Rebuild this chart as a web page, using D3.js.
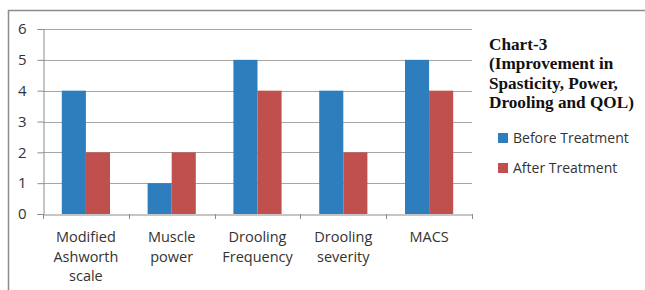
<!DOCTYPE html>
<html><head><meta charset="utf-8">
<script src="https://cdn.jsdelivr.net/npm/d3@7"></script>
<style>body{margin:0;background:#fff}svg{display:block}</style>
</head><body>
<svg id="c" width="645" height="290"></svg>
<script>
const categories = [["Modified","Ashworth","scale"],["Muscle","power"],["Drooling","Frequency"],["Drooling","severity"],["MACS"]];
const seriesNames = ["Before Treatment","After Treatment"];
const beforeValues = [4,1,5,4,5];
const afterValues = [2,2,4,2,4];
const yTicks = [0,1,2,3,4,5,6];
const titleLines = ["Chart-3","(Improvement in","Spasticity, Power,","Drooling and QOL)"];
const colors = ["#2E7EBE","#C0504D"];

(function(){
const svg = d3.select("#c");
svg.append("rect").attr("x",8.5).attr("y",10.5).attr("width",660).attr("height",300)
  .attr("fill","#fff").attr("stroke","#8c8c8c").attr("stroke-width",1.5);

const pLeft=43, pRight=472, pTop=29, pBottom=214;
const x = d3.scaleBand().domain(d3.range(categories.length)).range([pLeft,pRight]);
const y = d3.scaleLinear().domain([0,6]).range([pBottom,pTop]);
const inner = d3.scaleBand().domain([0,1]).range([0, x.bandwidth()]).paddingOuter(0.78).paddingInner(0);

const font = "'Open Sans', sans-serif";
svg.append("g").selectAll("line").data(yTicks.filter(d=>d>0)).join("line")
  .attr("x1",pLeft).attr("x2",pRight).attr("y1",d=>Math.round(y(d))+0.5).attr("y2",d=>Math.round(y(d))+0.5)
  .attr("stroke","#a6a6a6").attr("stroke-width",1);

const yAxis = svg.append("g").attr("transform",`translate(${pLeft+0.5},0)`)
  .call(d3.axisLeft(y).tickValues(yTicks).tickFormat(d3.format("d")).tickSize(6).tickPadding(11));
yAxis.select(".domain").attr("stroke","#8c8c8c");
yAxis.selectAll(".tick line").attr("stroke","#8c8c8c");
yAxis.selectAll("text").attr("font-family",font).attr("font-size",15).attr("fill","#333");

const groups = svg.append("g").selectAll("g").data(categories).join("g")
  .attr("transform",(d,i)=>`translate(${x(i)},0)`);
groups.selectAll("rect").data((d,i)=>[beforeValues[i],afterValues[i]]).join("rect")
  .attr("x",(d,j)=>inner(j)).attr("width",inner.bandwidth())
  .attr("y",d=>y(d)).attr("height",d=>pBottom-y(d)).attr("fill",(d,j)=>colors[j]);

const xAxis = svg.append("g").attr("transform",`translate(0,${pBottom+0.5})`)
  .call(d3.axisBottom(x).tickValues([]).tickSizeOuter(0));
xAxis.select(".domain").attr("stroke","#8c8c8c");
svg.append("g").selectAll("line").data(d3.range(categories.length+1)).join("line")
  .attr("x1",i=>Math.round(pLeft+i*x.step())+0.5).attr("x2",i=>Math.round(pLeft+i*x.step())+0.5)
  .attr("y1",pBottom).attr("y2",pBottom+5).attr("stroke","#8c8c8c");

const lab = svg.append("g").selectAll("text").data(categories).join("text")
  .attr("font-family",font).attr("font-size",14.5).attr("fill","#333").attr("text-anchor","middle");
lab.each(function(d,i){
  d3.select(this).selectAll("tspan").data(d).join("tspan")
    .attr("x",x(i)+x.bandwidth()/2).attr("y",(t,k)=>242+k*19.5).text(t=>t);
});

svg.append("g").selectAll("text").data(titleLines).join("text")
  .attr("x",489).attr("y",(d,i)=>50+i*19.3)
  .attr("font-family","'Liberation Serif', serif").attr("font-weight","bold").attr("font-size",17.2)
  .attr("fill","#111").text(d=>d);

const leg = svg.append("g").selectAll("g").data(seriesNames).join("g")
  .attr("transform",(d,i)=>`translate(498,${133+i*30})`);
leg.append("rect").attr("width",10).attr("height",10).attr("fill",(d,i)=>colors[i]);
leg.append("text").attr("x",15).attr("y",10).attr("font-family",font).attr("font-size",14)
  .attr("fill","#333").text(d=>d);
})();
</script>
</body></html>
